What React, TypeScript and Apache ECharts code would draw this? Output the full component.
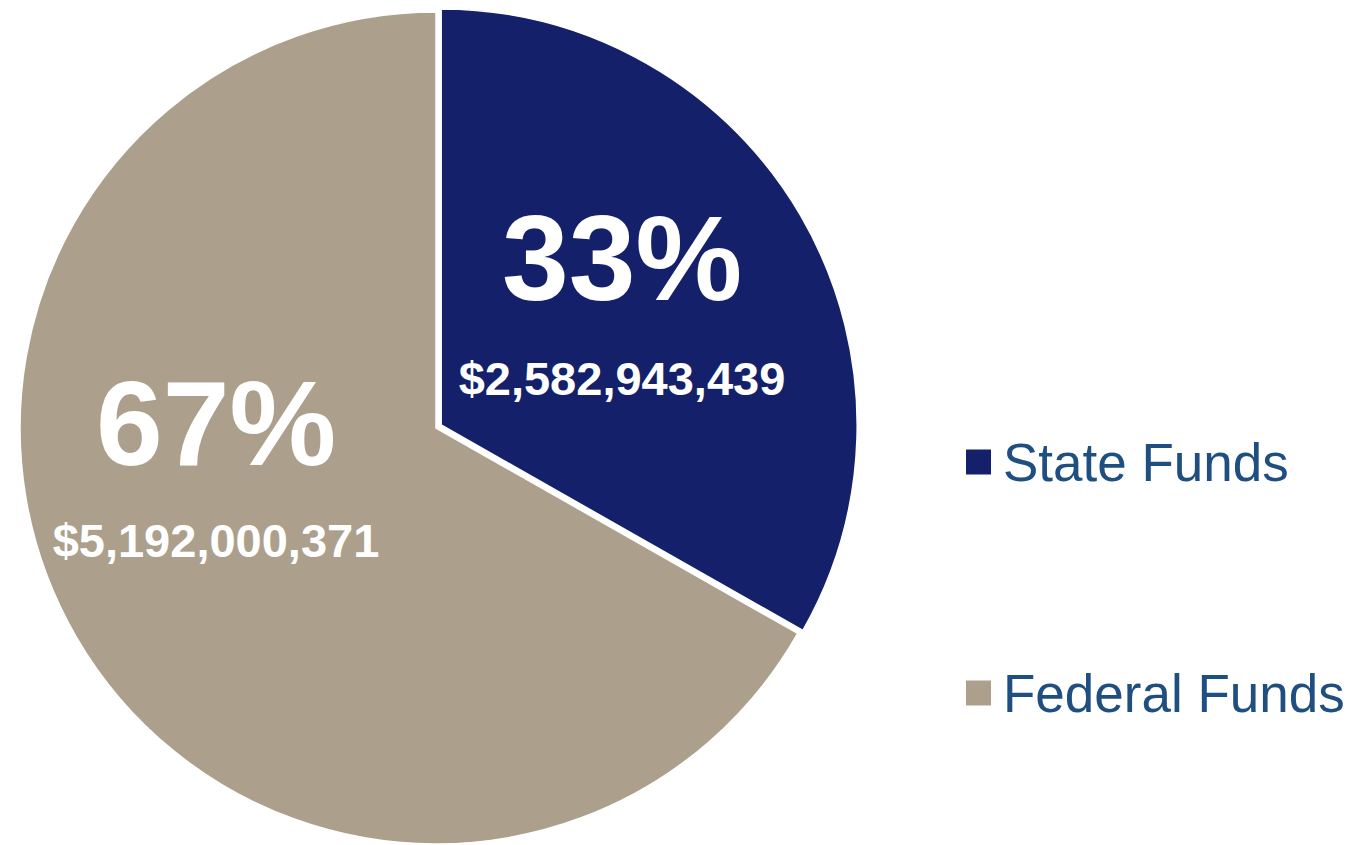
import React, { useEffect, useRef } from "react";
import * as echarts from "echarts";

const categories = ["State Funds", "Federal Funds"];
const amounts = [2582943439, 5192000371];
const colors = ["#14216A", "#ACA08D"];

// label anchor points (centre x, big-line y, small-line y)
const labelAnchors = [
  [622, 258, 378],
  [216, 423, 540],
];

const FONT = "'Liberation Sans', Arial, Helvetica, sans-serif";

export default function App() {
  const ref = useRef<HTMLDivElement>(null);
  useEffect(() => {
    document.body.style.margin = "0";
    if (!ref.current) return;
    const chart = echarts.init(ref.current, undefined, { renderer: "svg" });
    const total = amounts.reduce((a, b) => a + b, 0);
    const data = categories.map((name, i) => ({
      name,
      value: amounts[i],
      selected: i === 0,
      itemStyle: { color: colors[i] },
    }));
    const graphic: any[] = [];
    amounts.forEach((v, i) => {
      const [x, y1, y2] = labelAnchors[i];
      graphic.push({
        type: "text",
        x,
        y: y1,
        z: 100,
        style: {
          text: `${Math.round((v / total) * 100)}%`,
          fill: "#ffffff",
          font: `bold 120px ${FONT}`,
          textAlign: "center",
          textVerticalAlign: "middle",
        },
      });
      graphic.push({
        type: "text",
        x,
        y: y2,
        z: 100,
        style: {
          text: `$${v.toLocaleString("en-US")}`,
          fill: "#ffffff",
          font: `bold 47px ${FONT}`,
          textAlign: "center",
          textVerticalAlign: "middle",
        },
      });
    });
    chart.setOption({
      animation: false,
      backgroundColor: "#ffffff",
      legend: {
        orient: "vertical",
        left: 959,
        top: 427,
        itemWidth: 27,
        itemHeight: 27,
        itemGap: 171,
        icon: "rect",
        selectedMode: false,
        data: categories,
        textStyle: {
          fontFamily: FONT,
          fontSize: 53,
          lineHeight: 60,
          color: "#1F4E80",
          padding: [0, 0, 0, 6],
        },
      },
      graphic,
      series: [
        {
          type: "pie",
          center: [436, 428],
          radius: 416,
          startAngle: 90,
          clockwise: true,
          selectedMode: "single",
          selectedOffset: 6,
          emphasis: { disabled: true },
          itemStyle: { borderColor: "#ffffff", borderWidth: 1.5 },
          label: { show: false },
          labelLine: { show: false },
          data,
        },
      ],
    });
    return () => chart.dispose();
  }, []);
  return <div ref={ref} style={{ width: 1365, height: 845 }} />;
}
